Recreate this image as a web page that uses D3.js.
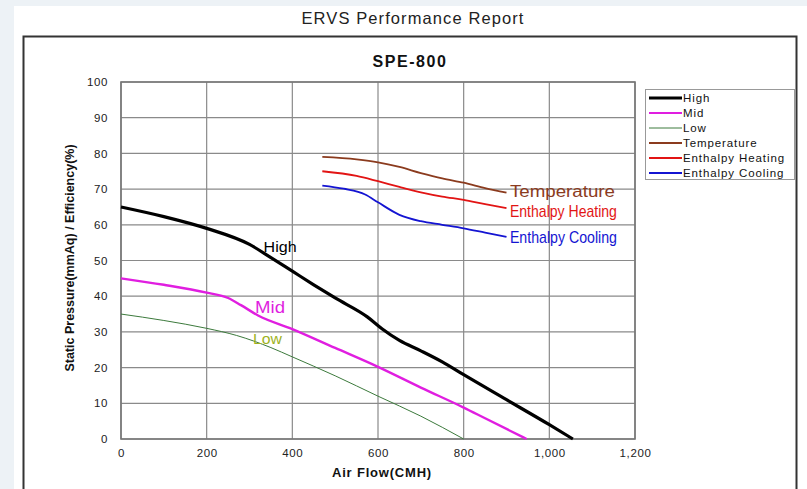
<!DOCTYPE html>
<html><head><meta charset="utf-8">
<script src="https://cdn.jsdelivr.net/npm/d3@7/dist/d3.min.js"></script>
<style>
html,body{margin:0;padding:0;background:#edf2f6;}
svg{display:block;font-family:"Liberation Sans",Arial,sans-serif;}
</style></head><body>
<svg id="chart" width="807" height="489"></svg>
<script>
// ---- data ----
const xTicks = [0, 200, 400, 600, 800, 1000, 1200];
const yTicks = [0, 10, 20, 30, 40, 50, 60, 70, 80, 90, 100];
const seriesNames = ["High", "Mid", "Low", "Temperature", "Enthalpy Heating", "Enthalpy Cooling"];
const highFlow = [0, 100, 200, 300, 350, 400, 450, 500, 575, 610, 650, 700, 750, 800, 900, 1000, 1055];
const highVal  = [65, 62.3, 59, 54.5, 50.8, 47, 43.2, 39.5, 34.2, 30.8, 27.6, 24.7, 21.6, 18, 11, 4, 0];
const midFlow = [0, 100, 200, 250, 280, 320, 400, 500, 600, 700, 800, 850, 947];
const midVal  = [45, 43.2, 41, 39.5, 37.5, 34.6, 30.8, 25.5, 20.2, 14.4, 8.8, 5.8, 0];
const lowFlow = [0, 100, 200, 270, 350, 400, 500, 600, 700, 800];
const lowVal  = [35, 33.2, 31, 29, 25.6, 23, 17.7, 12, 6.4, 0];
const tempFlow = [470, 550, 600, 650, 700, 750, 800, 850, 900];
const tempVal  = [79, 78.3, 77.5, 76.2, 74.5, 73, 71.8, 70.3, 69];
const heatFlow = [470, 550, 600, 650, 700, 750, 800, 850, 900];
const heatVal  = [75, 73.7, 72.2, 70.6, 69.1, 67.9, 67, 65.8, 64.7];
const coolFlow = [470, 520, 570, 600, 650, 700, 750, 800, 850, 900];
const coolVal  = [71, 70.1, 68.5, 66.3, 62.8, 61, 60, 59, 57.8, 56.6];
// in-chart labels: text, flow, value
const labelText = ["High", "Mid", "Low", "Temperature", "Enthalpy Heating", "Enthalpy Cooling"];
const labelFlow = [333, 313, 308, 908, 908, 908];
const labelVal  = [52.5, 35.3, 26.6, 67.8, 62.2, 54.9];

// ---- styles ----
const colors = ["#000000", "#e01ee0", "#3c7a3c", "#8b3b1e", "#e21414", "#1414d2"];
const widths = [3.2, 2.4, 1, 1.8, 1.8, 1.8];
const labelColors = ["#000000", "#e01ee0", "#9db21e", "#8b3b1e", "#e21414", "#1414d2"];
const labelSizes = [15, 17, 15, 16.5, 17, 17];
const labelLengths = [33, 30, 29, 105, 107, 107];

const svg = d3.select("#chart");
svg.append("rect").attr("x", 14).attr("y", 6).attr("width", 793).attr("height", 483).attr("fill", "#ffffff");
svg.append("text").attr("x", 413).attr("y", 24).attr("text-anchor", "middle")
  .attr("font-size", 16.5).attr("letter-spacing", 1.1).attr("fill", "#222").text("ERVS Performance Report");
svg.append("rect").attr("x", 23.5).attr("y", 36.5).attr("width", 773).attr("height", 470)
  .attr("fill", "#fff").attr("stroke", "#333").attr("stroke-width", 2);
svg.append("text").attr("x", 410).attr("y", 67).attr("text-anchor", "middle")
  .attr("font-size", 16).attr("letter-spacing", 1.6).attr("font-weight", "bold").attr("fill", "#111").text("SPE-800");

const x = d3.scaleLinear().domain([0, 1200]).range([121, 635]);
const y = d3.scaleLinear().domain([0, 100]).range([439, 82]);

const g = svg.append("g");
g.selectAll("line.h").data(yTicks).join("line")
  .attr("x1", x(0)).attr("x2", x(1200)).attr("y1", d => y(d)).attr("y2", d => y(d))
  .attr("stroke", "#8a8a8a").attr("stroke-width", 1.2);
g.selectAll("line.v").data(xTicks).join("line")
  .attr("y1", y(0)).attr("y2", y(100)).attr("x1", d => x(d)).attr("x2", d => x(d))
  .attr("stroke", "#8a8a8a").attr("stroke-width", 1.2);
g.append("rect").attr("x", x(0)).attr("y", y(100)).attr("width", x(1200) - x(0)).attr("height", y(0) - y(100))
  .attr("fill", "none").attr("stroke", "#777").attr("stroke-width", 1.6);

const xAxis = d3.axisBottom(x).tickValues(xTicks).tickSize(0).tickPadding(10).tickFormat(d3.format(",d"));
const yAxis = d3.axisLeft(y).tickValues(yTicks).tickSize(0).tickPadding(13);
const gx = svg.append("g").attr("transform", `translate(0,${y(0)})`).call(xAxis);
const gy = svg.append("g").attr("transform", `translate(${x(0)},0)`).call(yAxis);
[gx, gy].forEach(a => {
  a.select(".domain").remove();
  a.selectAll("text").attr("font-size", 11.5).attr("letter-spacing", 0.6).attr("fill", "#222")
    .attr("font-family", "Liberation Sans, Arial, sans-serif");
});
svg.append("text").attr("x", 382).attr("y", 477).attr("text-anchor", "middle")
  .attr("font-size", 13).attr("letter-spacing", 0.8).attr("font-weight", "bold").attr("fill", "#111").text("Air Flow(CMH)");
svg.append("text").attr("transform", "translate(74,258) rotate(-90)").attr("text-anchor", "middle")
  .attr("font-size", 12.5).attr("font-weight", "bold").attr("fill", "#111").text("Static Pressure(mmAq) / Efficiency(%)");

const flows = [highFlow, midFlow, lowFlow, tempFlow, heatFlow, coolFlow];
const vals = [highVal, midVal, lowVal, tempVal, heatVal, coolVal];
const line = d3.line().x(d => x(d[0])).y(d => y(d[1])).curve(d3.curveMonotoneX);
seriesNames.forEach((n, i) => {
  const pts = flows[i].map((f, j) => [f, vals[i][j]]);
  svg.append("path").datum(pts).attr("d", line).attr("fill", "none")
    .attr("stroke", colors[i]).attr("stroke-width", widths[i]).attr("stroke-linejoin", "round");
});

labelText.forEach((t, i) => {
  svg.append("text").attr("x", x(labelFlow[i])).attr("y", y(labelVal[i]))
    .attr("font-size", labelSizes[i]).attr("fill", labelColors[i])
    .attr("textLength", labelLengths[i]).attr("lengthAdjust", "spacingAndGlyphs")
    .text(t);
});

const lg = svg.append("g");
lg.append("rect").attr("x", 645.5).attr("y", 89.5).attr("width", 149).attr("height", 90)
  .attr("fill", "#fff").attr("stroke", "#999").attr("stroke-width", 1);
seriesNames.forEach((n, i) => {
  const ly = 98 + i * 15;
  lg.append("line").attr("x1", 649).attr("x2", 682).attr("y1", ly).attr("y2", ly)
    .attr("stroke", colors[i]).attr("stroke-width", i === 0 ? 3 : (i === 2 ? 1 : 2));
  lg.append("text").attr("x", 683).attr("y", ly + 4).attr("font-size", 11.5).attr("letter-spacing", 0.9)
    .attr("fill", "#111").text(n);
});
</script>
</body></html>
